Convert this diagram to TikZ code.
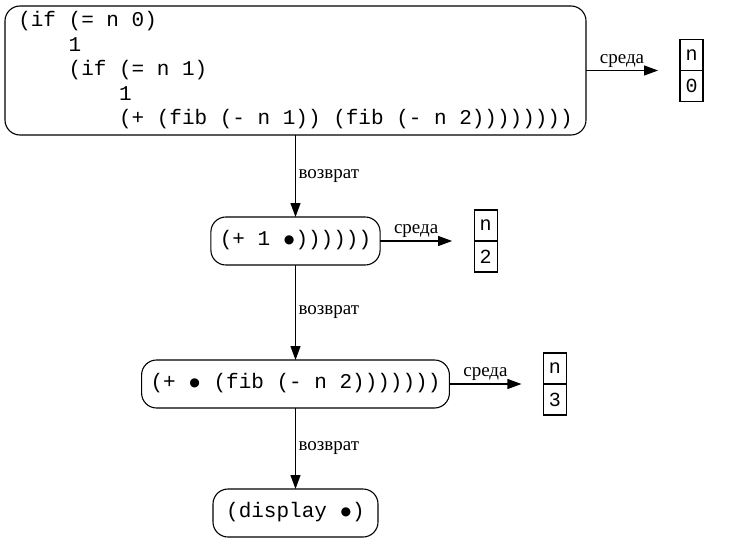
\documentclass[tikz,border=0pt]{standalone}
\usepackage{fontspec}
\setmainfont{Liberation Serif}
\setmonofont{Liberation Mono}
\usetikzlibrary{positioning, arrows.meta}
\newcommand{\hole}{\makebox[0.6em]{\raisebox{-0.3em}{\scalebox{1.6}{•}}}}
\tikzset{
  codebox/.style={draw, line width=1.1pt, rounded corners=15pt, align=left,
    font=\ttfamily\fontsize{21}{24.5}\selectfont, inner xsep=9pt, outer sep=0pt},
  pill/.style={codebox, minimum width=165pt, minimum height=48pt},
  envcell/.style={draw, line width=1.1pt, minimum width=23pt, minimum height=31pt,
    inner sep=0pt, outer sep=0pt, font=\ttfamily\fontsize{20}{22}\selectfont},
  arr/.style={-{Triangle[length=14pt,width=10pt]}, line width=1.2pt},
  smalltxt/.style={font=\fontsize{19}{20}\selectfont, inner sep=2.5pt},
}

\begin{document}
\begin{tikzpicture}[x=1pt, y=-1pt]
  \useasboundingbox (0,0) rectangle (733,543);
  % frames of the computation
  \node[codebox, minimum width=581pt, minimum height=129pt] (c0) at (295.5,70.5)
    {(if (= n 0)\\
     \phantom{0000}1\\
     \phantom{0000}(if (= n 1)\\
     \phantom{00000000}1\\
     \phantom{00000000}(+ (fib (- n 1)) (fib (- n 2))))))))};
  \node[pill] (c1) at (295.5,241) {(+ 1 \hole))))))};
  \node[pill] (c2) at (295.5,384) {(+ \hole{} (fib (- n 2)))))))};
  \node[pill] (c3) at (295.5,513) {(display \hole)};
  \foreach \a/\b in {c0/c1,c1/c2,c2/c3}
    \draw[arr] (\a.south) -- (\b.north) node[midway, right, smalltxt] {возврат};
  % environments
  \foreach \b/\v in {c0/0,c1/2,c2/3} {
    \node[envcell, anchor=south west] (\b-n) at ([xshift=94pt]\b.east) {n};
    \node[envcell, below=0pt of \b-n] (\b-v) {\v};
    \draw[arr, shorten >=22pt] (\b.east) -- (\b-n.south west)
      node[pos=0.383, above, smalltxt] {среда};
  }
\end{tikzpicture}
\end{document}
